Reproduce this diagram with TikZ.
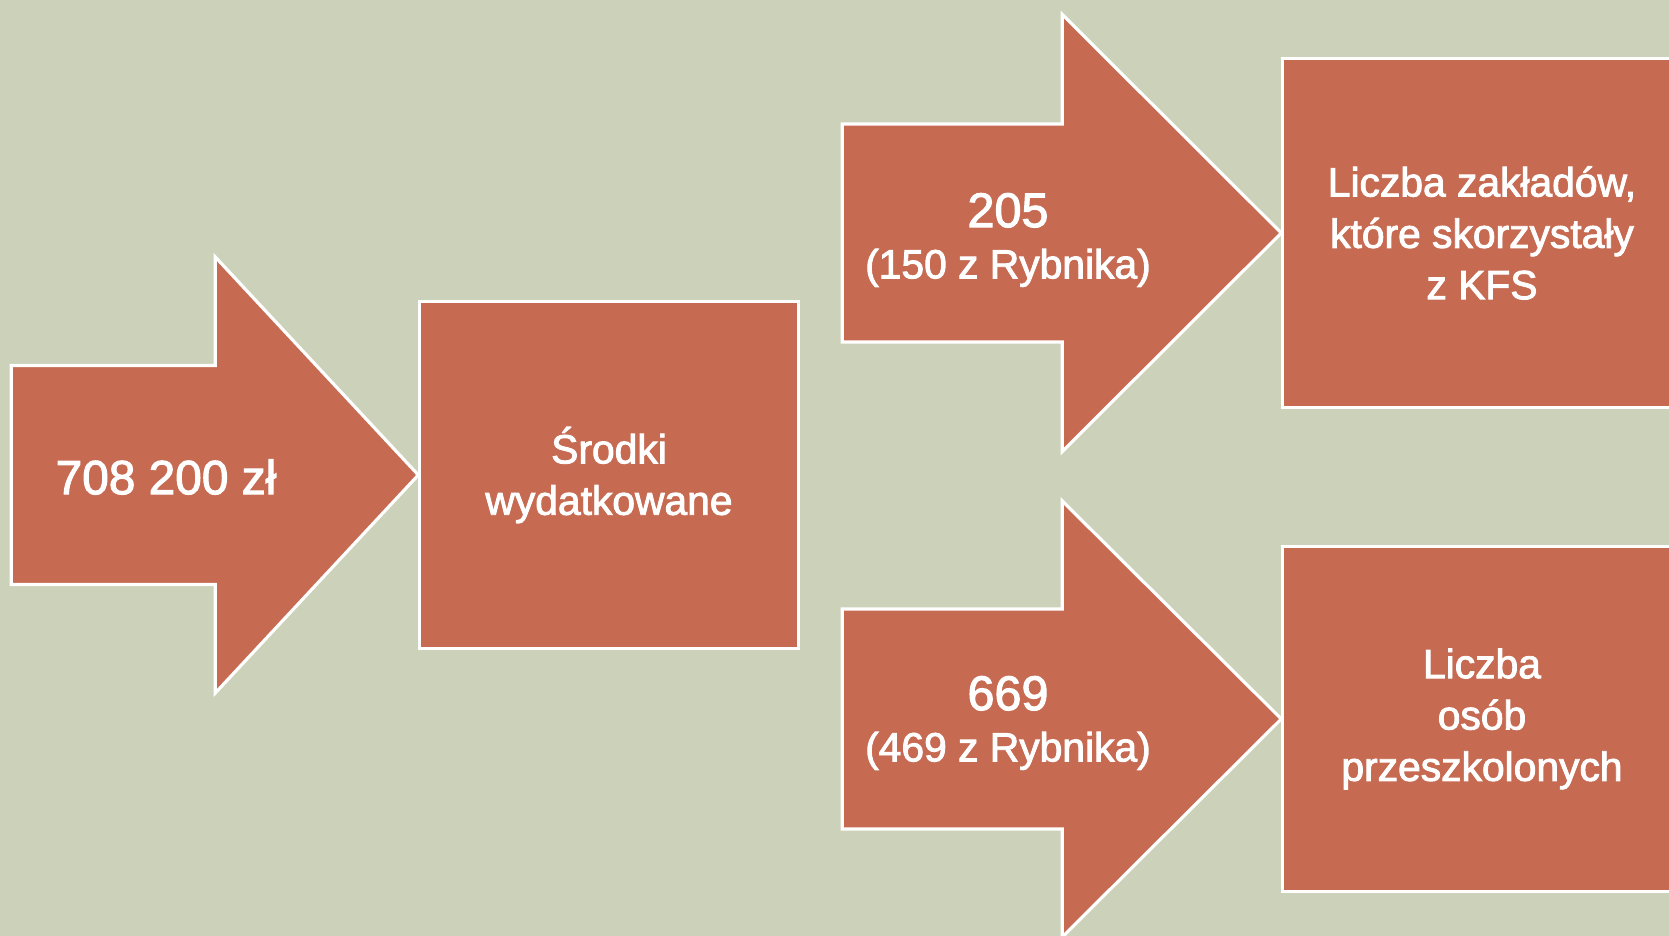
\documentclass[tikz,border=0pt]{standalone}
\usepackage{fontspec}
\setmainfont{Liberation Sans}[FakeBold=2.2]
\usetikzlibrary{positioning}
\definecolor{sage}{RGB}{204,209,185}
\definecolor{brick}{RGB}{198,106,82}
\newcommand{\bigfont}{\fontsize{13.6}{16}\selectfont}
\newcommand{\numfont}{\fontsize{13.8}{14.6}\selectfont}
\tikzset{
	block/.style={draw=white, fill=brick, line width=0.9pt, inner sep=0pt, text=white, align=center,
		minimum height=3.46cm, font=\fontsize{11.6}{14.6}\selectfont},
	flow/.style={draw=white, fill=brick, line width=0.9pt},
	arrtext/.style={text=white, align=center, font=\fontsize{11.6}{14.6}\selectfont}
}
\begin{document}
\begin{tikzpicture}[x=0.01cm, y=-0.01cm]
	\fill[sage] (0,0) rectangle (1669,936);
	\clip (0,0) rectangle (1669,936);
	\node[block, minimum width=3.78cm] (srodki) at (609,475) {Środki\\wydatkowane};
	\node[block, minimum width=3.98cm, minimum height=3.48cm] (zaklady) at (1482,233) {Liczba zakładów,\\które skorzystały\\z KFS};
	\node[block, minimum width=3.98cm, minimum height=3.45cm, below=1.36cm of zaklady] (osoby) {Liczba\\osób\\przeszkolonych};
	\foreach \b/\hl/\hh/\sl/\sh in {srodki/203/218/407/109.5, zaklady/219/218.5/439/109, osoby/219/218/439/110}
	\draw[flow] (\b.west) -- ++(-\hl,-\hh) -- ++(0,{\hh-\sh}) -- ++({\hl-\sl},0) -- ++(0,{2*\sh}) -- ++({\sl-\hl},0) -- ++(0,{\hh-\sh}) -- cycle;
	\node[arrtext, font=\bigfont] (kwota) at (166,477) {708 200 zł};
	\node[arrtext] (firmy) at (1008,240) {{\numfont 205}\\(150 z Rybnika)};
	\node[arrtext] (osob) at (1008,723) {{\numfont 669}\\(469 z Rybnika)};
\end{tikzpicture}
\end{document}
